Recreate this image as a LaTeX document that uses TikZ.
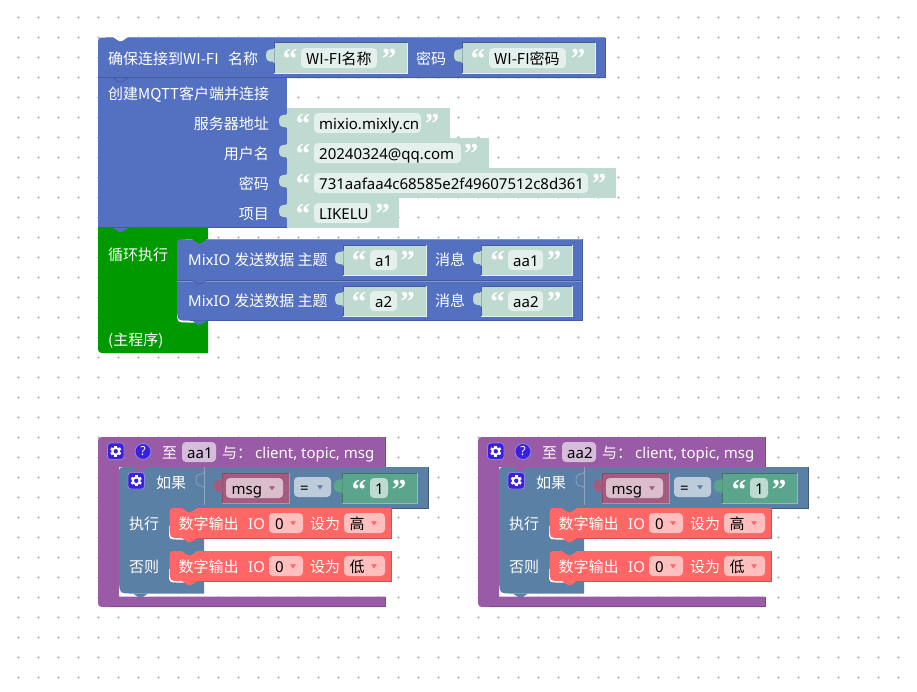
\documentclass[tikz,border=0pt]{standalone}
\usepackage{fontspec}
\setmainfont{Noto Sans}
\newfontfamily\cjk{Noto Sans CJK SC}
\newfontfamily\quotefont[BoldFont={Liberation Serif Bold}]{Liberation Serif}
\definecolor{blu}{HTML}{5470C0}
\definecolor{bluD}{HTML}{435A9C}
\definecolor{bluL}{HTML}{7E94D2}
\definecolor{strg}{HTML}{BFDAD0}
\definecolor{strF}{HTML}{E4F0EC}
\definecolor{grn}{HTML}{009900}
\definecolor{pur}{HTML}{995BA5}
\definecolor{purD}{HTML}{7D4A87}
\definecolor{gry}{HTML}{5B80A5}
\definecolor{gryL}{HTML}{8CA6C0}
\definecolor{redb}{HTML}{FF6666}
\definecolor{redD}{HTML}{CC5252}
\definecolor{redF}{HTML}{FFBFBF}
\definecolor{mag}{HTML}{A55B80}
\definecolor{magD}{HTML}{844966}
\definecolor{magL}{HTML}{C08CA6}
\definecolor{magF}{HTML}{DBBDCC}
\definecolor{eqF}{HTML}{BDCCDB}
\definecolor{tea}{HTML}{5BA58C}
\definecolor{teaL}{HTML}{8CC0AE}
\definecolor{teaF}{HTML}{BDDBD1}
\definecolor{purF}{HTML}{D6BDDB}
\definecolor{icon}{HTML}{3A1FDC}
\definecolor{iconL}{HTML}{8E82DE}
\tikzset{x=1pt,y=-1pt,
  txt/.style={inner sep=0pt,anchor=base west,yshift=-6.2pt,font=\fontsize{15}{16}\selectfont,text=white},
  txtr/.style={txt,anchor=base east},
  blk/.style={text=black},
  qmark/.style={inner sep=0pt,anchor=base,yshift=-15.5pt,text=white,font=\fontsize{29}{29}\quotefont\bfseries}}
\newcommand\Tx[5][]{\node[txt,#1] (#2) at (#3,#4) {#5};}
\newcommand\Tr[4]{\node[txtr] (#1) at (#2,#3) {#4};}
\newcommand\Ql[3]{\node[qmark] (#1) at (#2,#3) {“};}
\newcommand\Qr[3]{\node[qmark] (#1) at (#2,#3) {”};}
\newcommand\Tab[3]{\fill[#3,shift={(#1,#2)}] (0.5,5.5) -- (0,5.5) .. controls (0,9) and (-8,3.5) .. (-8,13) .. controls (-8,22.5) and (0,17) .. (0,20.5) -- (0.5,20.5) -- cycle;}
\newcommand\Bump[3]{\fill[#3] (#1,#2) -- (#1+6,#2+4) -- (#1+9,#2+4) -- (#1+15,#2) -- cycle;}
\newcommand\Fd[5]{\fill[#5,rounded corners=4pt] (#1,#2) rectangle (#3,#4);}
\newcommand\Ar[3]{\fill[#3,line join=round,draw=#3,line width=0.5pt] (#1-2.5,#2-1.5) -- (#1+2.5,#2-1.5) -- (#1,#2+1.8) -- cycle;}
\newcommand\Sb[4]{\fill[strg] (#1,#2) rectangle (#3,#4); \Tab{#1}{#2}{strg}}
\newcommand\Si[4]{\fill[strg] (#1,#2) rectangle (#3,#4);
  \draw[bluD,line width=0.8pt] (#1,#4) -- (#1,#2) -- (#3,#2);
  \draw[strF,line width=1pt] (#3,#2) -- (#3,#4) -- (#1,#4);
  \Tab{#1}{#2}{strg}}
\newcommand\Gear[2]{\begin{scope}[shift={(#1,#2)}]
  \fill[icon,draw=iconL,line width=0.9pt,rounded corners=3pt] (0,0) rectangle (16.5,16.5);
  \foreach \a in {30,90,...,330}{\draw[white,line width=2.6pt] (8.25,8.25) -- +(\a:5.6);}
  \fill[white] (8.25,8.25) circle (4.4);
  \fill[icon] (8.25,8.25) circle (2.2);
  \end{scope}}
\newcommand\Dout[3]{%
  \fill[white] (178,#1+18) -- (169,#1+18) -- (169,#1+22) .. controls (169,#1+31.5) .. (178,#1+31.5) -- (190,#1+31.5) -- (190,#1+18) -- cycle;
  \fill[redb] (177,#1) .. controls (169.5,#1) .. (169.5,#1+8) -- (169.5,#1+20) .. controls (170,#1+30) .. (179,#1+30) -- (391,#1+30) -- (391,#1) -- cycle;
  \draw[redD,line width=0.8pt] (190,#1+30) -- (391,#1+30) -- (391,#1);
  \Bump{182}{#1}{gry}
  \Bump{182}{#1+30}{redb}
  \Tx{#2a}{178.5}{#1+15}{\cjk 数字输出}
  \Tx{#2b}{248}{#1+15}{IO}
  \Fd{269}{#1+5}{303}{#1+25}{redF}
  \Tx[blk]{#2c}{275}{#1+15}{0}
  \Ar{293}{#1+15}{redb}
  \Tx{#2d}{310}{#1+15}{\cjk 设为}
  \Fd{344}{#1+5}{385}{#1+25}{redF}
  \Tx[blk]{#2e}{349.5}{#1+15}{\cjk #3}
  \Ar{374}{#1+15}{redb}}
\newcommand\Proc[3]{\begin{scope}[xshift=#1pt,name prefix=#2-]
  \fill[pur] (385,437) -- (106,437) .. controls (98,437) .. (98,445) -- (98,599) .. controls (98,607) .. (106,607) -- (385,607) -- (385,596.5) -- (119,596.5) -- (119,467) -- (385,467) -- cycle;
  \draw[purD,line width=0.8pt] (110,606.6) -- (385,606.6) -- (385,596.5);
  \draw[purD,line width=0.8pt] (385,467) -- (385,437);
  \Gear{107.5}{443}
  \fill[icon,draw=iconL,line width=0.9pt] (143,451.5) circle (8);
  \node[inner sep=0pt,text=white,font=\fontsize{12.5}{12.5}\bfseries\selectfont] (help) at (143,451.5) {?};
  \Tx{to}{162}{452.5}{\cjk 至}
  \Fd{182}{442}{216}{462}{purF}
  \Tx[blk]{nm}{187}{452.5}{#3}
  \Tx{wi}{222}{452.5}{\cjk 与：}
  \Tx{ar}{255}{452.5}{client, topic, msg}
  \fill[white] (119,575) -- (119,584) .. controls (119,596) .. (131,596) -- (150,596) -- (150,575) -- cycle;
  \fill[gry] (127,467) .. controls (119,467) .. (119,475) -- (119,582) .. controls (119.8,593.5) .. (131,593.5) -- (204,593.5) -- (204,508) -- (428,508) -- (428,467) -- cycle;
  \draw[gry!70!black,line width=0.8pt] (204,508) -- (428,508) -- (428,467);
  \Bump{133}{467}{pur}
  \Bump{133}{593.5}{gry}
  \draw[gryL,line width=0.8pt] (204,467) -- (204,505);
  \begin{scope}[shift={(204,467)}]
    \draw[gryL,line width=0.7pt] (0,5.5) .. controls (0,9) and (-8,3.5) .. (-8,13) .. controls (-8,22.5) and (0,17) .. (0,20.5);
  \end{scope}
  \Gear{128}{472.5}
  \Tx{if}{156}{482}{\cjk 如果}
  \Tx{do}{129}{523}{\cjk 执行}
  \Tx{el}{129}{566}{\cjk 否则}
  \fill[mag] (222,473) rectangle (289,503);
  \draw[magD,line width=0.9pt] (222,503) -- (222,473) -- (289,473);
  \draw[magL,line width=0.9pt] (289,473) -- (289,503) -- (222,503);
  \Tab{222}{473}{mag}
  \Fd{226}{478}{283}{498}{magF}
  \Tx[blk]{ms}{231.5}{488}{msg}
  \Ar{272}{488}{mag}
  \Fd{294}{477}{331}{497}{eqF}
  \Tx[blk]{eq}{300}{487}{=}
  \Ar{320}{487}{gry}
  \fill[tea] (342,473) rectangle (417,503);
  \draw[tea!70!black,line width=0.9pt] (342,503) -- (342,473) -- (417,473);
  \draw[teaL,line width=0.9pt] (417,473) -- (417,503) -- (342,503);
  \Tab{342}{473}{tea}
  \Ql{qa}{359}{484}
  \Fd{370}{478}{388}{498}{teaF}
  \Tx[blk]{on}{375}{488}{1}
  \Qr{qb}{399}{484}
  \Dout{508}{hi}{高}
  \Dout{551}{lo}{低}
  \end{scope}}
\begin{document}
\begin{tikzpicture}
\useasboundingbox (0,0) rectangle (917,691);
\fill[white] (0,0) rectangle (917,691);
\foreach \i in {0,...,44}{\foreach \j in {0,...,33}{
  \draw[black!22,line width=0.8pt] (18.3+20*\i-1.5,17.7+20*\j) -- +(3,0) (18.3+20*\i,17.7+20*\j-1.5) -- +(0,3);
}}
% Wi-Fi block
\fill[blu] (98,78) -- (98,45.5) .. controls (98,37.5) .. (106,37.5) -- (605,37.5) -- (605,78) -- cycle;
\draw[bluL,line width=0.8pt] (106,37.5) -- (605,37.5);
\draw[bluD,line width=0.8pt] (605,37.5) -- (605,77.6) -- (98,77.6);
\Bump{113}{37}{white}
\Tx{wifi}{108}{58}{\cjk 确保连接到{WI-FI}}
\Tx{wifiname}{228}{58}{\cjk 名称}
\Si{274}{42.5}{407}{73}
\Ql{q1}{290}{53}
\Fd{301}{48}{377}{68}{strF}
\Tx[blk]{ssid}{306}{58}{\cjk WI-FI名称}
\Qr{q2}{389}{53}
\Tx{wifipw}{416}{58}{\cjk 密码}
\Si{462}{42.5}{595}{73}
\Ql{q3}{478}{53}
\Fd{489}{48}{566}{68}{strF}
\Tx[blk]{pass}{494}{58}{\cjk WI-FI密码}
\Qr{q4}{578}{53}
% MQTT block
\fill[blu] (98,78) rectangle (287,228);
\draw[bluD,line width=0.8pt] (98,227.6) -- (287,227.6);
\Bump{113}{78}{blu}
\draw[bluD,line width=0.6pt] (113,78) -- (119,82) -- (122,82) -- (128,78);
\Tx{mq}{108}{93}{\cjk 创建MQTT客户端并连接}
\Tr{l1}{269}{123}{\cjk 服务器地址}
\Tr{l2}{269}{153}{\cjk 用户名}
\Tr{l3}{269}{183}{\cjk 密码}
\Tr{l4}{269}{213}{\cjk 项目}
\Sb{287}{108}{450}{138}
\Ql{q5}{303}{118}
\Fd{314}{113}{421}{133}{strF}
\Tx[blk]{v1}{319}{123}{mixio.mixly.cn}
\Qr{q6}{432}{118}
\Sb{287}{138}{489}{168}
\Ql{q7}{303}{148}
\Fd{314}{143}{461}{163}{strF}
\Tx[blk]{v2}{319}{153}{20240324@qq.com}
\Qr{q8}{471}{148}
\Sb{287}{168}{616}{198}
\Ql{q9}{303}{178}
\Fd{314}{173}{588}{193}{strF}
\Tx[blk]{v3}{319}{183}{731aafaa4c68585e2f49607512c8d361}
\Qr{q10}{599}{178}
\Sb{287}{198}{399}{228}
\Ql{q11}{303}{208}
\Fd{314}{203}{371}{223}{strF}
\Tx[blk]{v4}{319}{213}{LIKELU}
\Qr{q12}{382.5}{208}
% main loop
\fill[grn] (98,228) -- (208,228) -- (208,353) -- (106,353) .. controls (98,353) .. (98,345) -- cycle;
\Bump{113}{228}{blu}
\Tx{lp}{108}{254}{\cjk 循环执行}
\Tx{mn}{108}{339}{\cjk (主程序)}
% send blocks
\fill[white] (177,300) -- (177,311) .. controls (177,322.5) .. (188,322.5) -- (200,322.5) -- (200,300) -- cycle;
\fill[blu] (185,239) .. controls (177,239) .. (177,247) -- (177,310) .. controls (177.5,320.6) .. (188,320.6) -- (582,320.6) -- (582,239) -- cycle;
\draw[bluL,line width=0.8pt] (185,239) -- (582,239);
\draw[bluD,line width=0.8pt] (582,239) -- (582,320.6) -- (190,320.6);
\draw[bluD,line width=0.7pt] (177,280) -- (582,280);
\draw[bluL,line width=0.5pt] (177,280.8) -- (582,280.8);
\Bump{192}{239}{grn}
\Bump{192}{280}{blu}
\draw[bluD,line width=0.6pt] (192,280) -- (198,284) -- (201,284) -- (207,280);
\Bump{192}{320.6}{blu}
\Tx{s1}{188}{259}{MixIO {\cjk 发送数据 主题}}
\Si{343}{245}{426}{275}
\Ql{q13}{359}{255}
\Fd{370}{250}{397}{270}{strF}
\Tx[blk]{t1}{375}{260}{a1}
\Qr{q14}{407.5}{255}
\Tx{m1}{435}{259}{\cjk 消息}
\Si{481}{245}{572}{275}
\Ql{q15}{497.5}{255}
\Fd{508}{250}{543}{270}{strF}
\Tx[blk]{d1}{513}{260}{aa1}
\Qr{q16}{554}{255}
\Tx{s2}{188}{300}{MixIO {\cjk 发送数据 主题}}
\Si{343}{286}{426}{316}
\Ql{q17}{359}{296}
\Fd{370}{291}{397}{311}{strF}
\Tx[blk]{t2}{375}{301}{a2}
\Qr{q18}{407.5}{296}
\Tx{m2}{435}{300}{\cjk 消息}
\Si{481}{286}{572}{316}
\Ql{q19}{497.5}{296}
\Fd{508}{291}{543}{311}{strF}
\Tx[blk]{d2}{513}{301}{aa2}
\Qr{q20}{554}{296}
\Proc{0}{pa}{aa1}
\Proc{380}{pb}{aa2}
\end{tikzpicture}
\end{document}
